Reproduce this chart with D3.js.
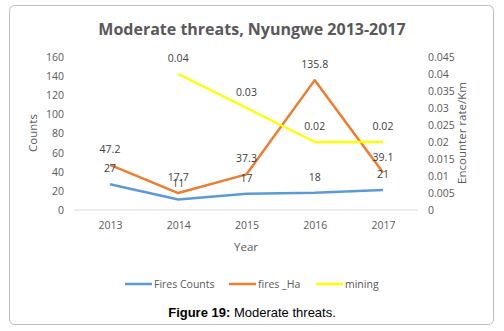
<!DOCTYPE html>
<html>
<head>
<meta charset="utf-8">
<script src="https://cdn.jsdelivr.net/npm/d3@7"></script>
<style>
  body { margin: 0; background: #fff; }
</style>
</head>
<body>
<div id="chart"></div>
<script>
var years = ['2013', '2014', '2015', '2016', '2017'];
var firesCounts = [27, 11, 17, 18, 21];
var firesHa = [47.2, 17.7, 37.3, 135.8, 39.1];
var mining = [null, 0.04, 0.03, 0.02, 0.02];
var leftTicks = [0, 20, 40, 60, 80, 100, 120, 140, 160];
var rightTicks = [0, 0.005, 0.01, 0.015, 0.02, 0.025, 0.03, 0.035, 0.04, 0.045];

var W = 504, H = 331;
var txt = '#595959';
var font = '"Open Sans", sans-serif';

var svg = d3.select('#chart').append('svg')
    .attr('width', W)
    .attr('height', H)
    .style('font-family', font);

svg.append('rect')
    .attr('x', 9.5).attr('y', 5.5)
    .attr('width', 484).attr('height', 319)
    .attr('rx', 5)
    .attr('fill', '#fff')
    .attr('stroke', '#bfbfbf');

svg.append('text')
    .attr('x', 252).attr('y', 35)
    .attr('text-anchor', 'middle')
    .attr('font-size', 16).attr('font-weight', 'bold')
    .attr('fill', txt)
    .text('Moderate threats, Nyungwe 2013-2017');

var x = d3.scalePoint().domain(years).range([110, 383]);
var yL = d3.scaleLinear().domain([0, 160]).range([210, 57]);
var yR = d3.scaleLinear().domain([0, 0.045]).range([210, 57]);

// baseline
svg.append('line')
    .attr('x1', 74).attr('x2', 418)
    .attr('y1', yL(0)).attr('y2', yL(0))
    .attr('stroke', '#d9d9d9');

var leftAxis = svg.append('g')
    .attr('transform', 'translate(64,0)')
    .call(d3.axisLeft(yL).tickValues(leftTicks).tickSize(0).tickPadding(0));
var rightAxis = svg.append('g')
    .attr('transform', 'translate(428,0)')
    .call(d3.axisRight(yR).tickValues(rightTicks).tickSize(0).tickPadding(0)
      .tickFormat(function(d) { return String(+d.toFixed(3)); }));
var bottomAxis = svg.append('g')
    .attr('transform', 'translate(0,' + 222 + ')')
    .call(d3.axisBottom(x).tickSize(0).tickPadding(0));

[leftAxis, rightAxis, bottomAxis].forEach(function(g) {
  g.select('.domain').remove();
  g.attr('font-family', font);
  g.selectAll('text').attr('fill', txt).attr('font-size', 10.5);
});

// axis titles
svg.append('text')
    .attr('transform', 'translate(37,133) rotate(-90)')
    .attr('text-anchor', 'middle')
    .attr('font-size', 11.5).attr('fill', txt)
    .text('Counts');
svg.append('text')
    .attr('transform', 'translate(466,133) rotate(-90)')
    .attr('text-anchor', 'middle')
    .attr('font-size', 11.5).attr('fill', txt)
    .text('Encounter rate/Km');
svg.append('text')
    .attr('x', 246).attr('y', 251)
    .attr('text-anchor', 'middle')
    .attr('font-size', 11.5).attr('fill', txt)
    .text('Year');

var series = [
  { name: 'Fires Counts', values: firesCounts, y: yL, color: '#5B9BD5', fmt: function(d) { return d; } },
  { name: 'fires _Ha', values: firesHa, y: yL, color: '#ED7D31', fmt: function(d) { return d; } },
  { name: 'mining', values: mining, y: yR, color: '#FFFF00', fmt: function(d) { return d.toFixed(2); } }
];

series.forEach(function(s) {
  var line = d3.line()
      .defined(function(d) { return d != null; })
      .x(function(d, i) { return x(years[i]); })
      .y(function(d) { return s.y(d); });
  svg.append('path')
      .datum(s.values)
      .attr('fill', 'none')
      .attr('stroke', s.color)
      .attr('stroke-width', 2.5)
      .attr('stroke-linejoin', 'round')
      .attr('d', line);
});

// data labels
series.forEach(function(s) {
  var pts = s.values
    .map(function(v, i) { return { year: years[i], v: v }; })
    .filter(function(d) { return d.v != null; });
  svg.append('g').selectAll('text')
    .data(pts)
    .enter().append('text')
      .attr('x', function(d) { return x(d.year); })
      .attr('y', function(d) { return s.y(d.v) - 12; })
      .attr('text-anchor', 'middle')
      .attr('font-size', 10.5)
      .attr('fill', '#404040')
      .text(function(d) { return s.fmt(d.v); });
});

// legend
var legend = svg.append('g');
var lx = [125, 229, 316];
series.forEach(function(s, i) {
  legend.append('line')
      .attr('x1', lx[i]).attr('x2', lx[i] + 27)
      .attr('y1', 284).attr('y2', 284)
      .attr('stroke', s.color).attr('stroke-width', 2.5);
  legend.append('text')
      .attr('x', lx[i] + 29).attr('y', 288)
      .attr('font-size', 10.5).attr('fill', txt)
      .text(s.name);
});

svg.append('text')
    .attr('x', 252).attr('y', 317)
    .attr('text-anchor', 'middle')
    .style('font-family', '"Liberation Sans", Arial, sans-serif')
    .attr('font-size', 13)
    .attr('fill', '#000')
    .html('<tspan font-weight="bold">Figure 19:</tspan> Moderate threats.');
</script>
</body>
</html>
